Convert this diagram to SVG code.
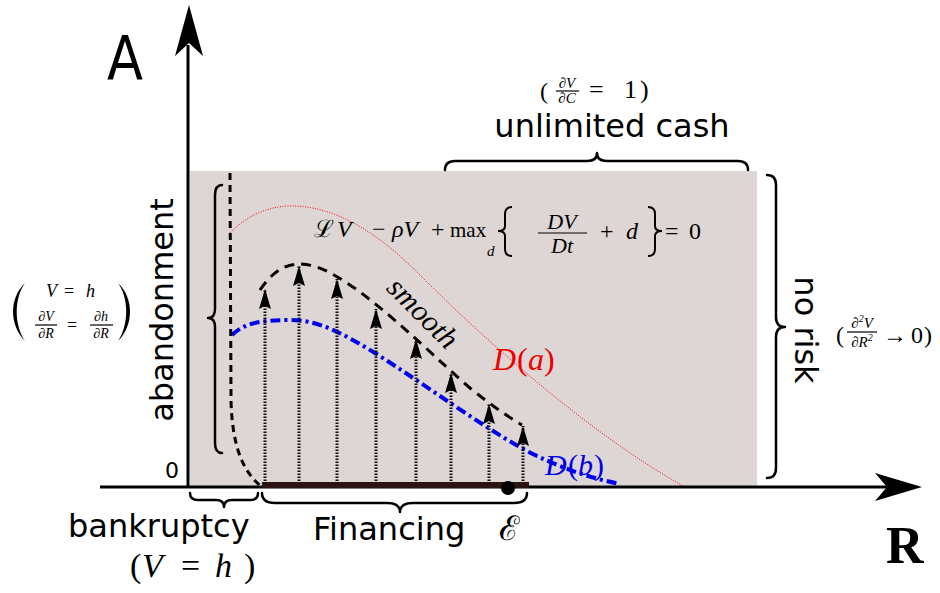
<svg xmlns="http://www.w3.org/2000/svg" width="940" height="593" viewBox="0 0 940 593">
<style>
.sans{font-family:"DejaVu Sans","Noto Sans",sans-serif;fill:#000}
.m{font-family:"Liberation Serif","DejaVu Serif",serif;fill:#000}
.i{font-style:italic}
.brace{fill:none;stroke:#000;stroke-width:2.5;stroke-linecap:round;stroke-linejoin:round}
.axis{stroke:#000;stroke-width:3;fill:none}
.shaft{stroke:#111;stroke-width:3;stroke-dasharray:1.5 1.5;fill:none}
.bar{stroke:#000;stroke-width:1.2}
</style>
<defs>
<marker id="ah" markerWidth="20" markerHeight="12" refX="20" refY="6" orient="auto" markerUnits="userSpaceOnUse">
<path d="M0,0 L20,6 L0,12 L3,6 Z" fill="#000"/>
</marker>
</defs>
<rect width="940" height="593" fill="#fff"/>
<g id="region">
<rect x="190" y="171" width="567" height="316" fill="#ddd6d4"/>
</g>
<g id="curves">
<path id="curve-a" d="M230,233 C250,212 275,205 295,206 C340,208 380,235 420,275 C500,355 600,440 685,487" fill="none" stroke="#ff0000" stroke-width="1" stroke-dasharray="1 1.5"/>
<path id="curve-b" d="M232,335 C245,322 265,320 290,320 C320,320 345,335 375,353 C430,388 480,425 525,450 C560,468 590,478 620,484" fill="none" stroke="#0000ee" stroke-width="4" stroke-dasharray="10 4 3 4"/>
<path id="curve-smooth" d="M260,290 C272,272 285,264 300,264 C320,264 340,278 360,292 C400,322 440,362 470,388 C490,404 505,415 522,425" fill="none" stroke="#000" stroke-width="3" stroke-dasharray="10 7"/>
<path id="boundary" d="M230,173 L231,400 C232,440 240,470 262,487" fill="none" stroke="#000" stroke-width="3" stroke-dasharray="7 5"/>
</g>
<g id="connectors">
<line class="shaft" x1="265" y1="484" x2="265" y2="289" marker-end="url(#ah)"/>
<line class="shaft" x1="299" y1="484" x2="299" y2="266" marker-end="url(#ah)"/>
<line class="shaft" x1="337" y1="484" x2="337" y2="279" marker-end="url(#ah)"/>
<line class="shaft" x1="376" y1="484" x2="376" y2="309" marker-end="url(#ah)"/>
<line class="shaft" x1="416" y1="484" x2="416" y2="339" marker-end="url(#ah)"/>
<line class="shaft" x1="451" y1="484" x2="451" y2="373" marker-end="url(#ah)"/>
<line class="shaft" x1="489" y1="484" x2="489" y2="404" marker-end="url(#ah)"/>
<line class="shaft" x1="523" y1="484" x2="523" y2="426" marker-end="url(#ah)"/>
</g>
<g id="axes">
<line class="axis" x1="188" y1="488" x2="188" y2="45"/>
<path d="M189,5 L203,56 L189,43 L175,56 Z" fill="#000"/>
<line class="axis" x1="100" y1="487" x2="890" y2="487"/>
<path d="M922,487 L875,501 L887,487 L875,473 Z" fill="#000"/>
<rect x="262" y="482" width="267" height="6" fill="#2b1414"/>
<circle cx="508" cy="488" r="7" fill="#000"/>
<text class="sans" x="107" y="79" font-size="60" textLength="36" lengthAdjust="spacingAndGlyphs">A</text>
<text class="sans" x="165" y="478" font-size="22">0</text>
<text class="m" x="886" y="563" font-size="52" font-weight="bold">R</text>
<text class="m" x="499" y="540" font-size="34" style="font-family:'DejaVu Serif',serif">ℰ</text>
</g>
<g id="braces">
<path class="brace" d="M222,185 Q215,185 215,195 L215,309 Q215,318 208,318 Q215,318 215,327 L215,443 Q215,453 222,453"/>
<path class="brace" d="M767,175 Q776,175 776,185 L776,317 Q776,327 785,327 Q776,327 776,337 L776,468 Q776,478 767,478"/>
<path class="brace" d="M445,170 Q445,161 455,161 L587,161 Q597,161 597,153 Q597,161 607,161 L738,161 Q748,161 748,170"/>
<path class="brace" d="M190,493 Q190,500 198,500 L216,500 Q224,500 224,507 Q224,500 232,500 L250,500 Q258,500 258,493"/>
<path class="brace" d="M262,493 Q262,503 275,503 L387,503 Q400,503 400,512 Q400,503 413,503 L514,503 Q527,503 527,493"/>
</g>
<g id="label-unlimited-cash">
<text class="m" x="540" y="99" font-size="24">(</text>
<text class="m i" x="567" y="88" font-size="15" text-anchor="middle">∂V</text>
<line class="bar" x1="556" y1="91" x2="579" y2="91"/>
<text class="m i" x="567" y="103" font-size="15" text-anchor="middle">∂C</text>
<text class="m" font-size="26" y="98"><tspan x="589">=</tspan><tspan x="624">1</tspan><tspan x="640">)</tspan></text>
<text class="sans" x="612" y="137" font-size="32" text-anchor="middle">unlimited cash</text>
</g>
<g id="label-no-risk">
<text class="sans" font-size="32" text-anchor="middle" transform="translate(795,330) rotate(90)">no risk</text>
<text class="m" x="836" y="343" font-size="24">(</text>
<text class="m i" x="862" y="328" font-size="15" text-anchor="middle">∂<tspan font-size="10" dy="-6">2</tspan><tspan dy="6">V</tspan></text>
<line class="bar" x1="847" y1="332" x2="877" y2="332"/>
<text class="m i" x="862" y="347" font-size="15" text-anchor="middle">∂R<tspan font-size="10" dy="-6">2</tspan></text>
<text class="m" font-size="24" y="343"><tspan x="883">→</tspan><tspan x="911">0</tspan><tspan x="924">)</tspan></text>
</g>
<g id="label-abandonment">
<text class="sans" font-size="32" text-anchor="middle" transform="translate(173,310) rotate(-90)">abandonment</text>
<path d="M25,283 C9,298 9,325 25,341 C14,325 14,298 25,283 Z" fill="#000"/>
<path d="M118,283 C134,298 134,325 118,341 C129,325 129,298 118,283 Z" fill="#000"/>
<text class="m" font-size="18" y="297"><tspan x="46" font-style="italic">V</tspan><tspan x="64">=</tspan><tspan x="86" font-style="italic">h</tspan></text>
<text class="m i" x="46" y="321" font-size="14" text-anchor="middle">∂V</text>
<line class="bar" x1="35" y1="325" x2="57" y2="325"/>
<text class="m i" x="46" y="338" font-size="14" text-anchor="middle">∂R</text>
<text class="m" x="67" y="331" font-size="18">=</text>
<text class="m i" x="101" y="321" font-size="14" text-anchor="middle">∂h</text>
<line class="bar" x1="90" y1="325" x2="113" y2="325"/>
<text class="m i" x="101" y="338" font-size="14" text-anchor="middle">∂R</text>
</g>
<g id="label-bankruptcy">
<text class="sans" x="68" y="537" font-size="32">bankruptcy</text>
<text class="m" font-size="34" y="577"><tspan x="130">(</tspan><tspan x="142" font-style="italic">V</tspan><tspan x="181">=</tspan><tspan x="215" font-style="italic">h</tspan><tspan x="244">)</tspan></text>
</g>
<g id="label-financing">
<text class="sans" x="313" y="540" font-size="32">Financing</text>
</g>
<g id="label-equation">
<text class="m" font-size="24" y="237"><tspan x="314" style="font-family:'DejaVu Serif',serif">ℒ</tspan><tspan x="337" font-style="italic">V</tspan><tspan x="372">−</tspan><tspan x="392" font-style="italic">ρV</tspan><tspan x="431">+</tspan></text>
<text class="m" x="450" y="237" font-size="21">max</text>
<text class="m i" x="487" y="256" font-size="15">d</text>
<path d="M512,207 Q505,207 505,214 L505,226 Q505,231 498,231 Q505,231 505,236 L505,249 Q505,256 512,256" fill="none" stroke="#000" stroke-width="2"/>
<text class="m i" x="562" y="229" font-size="22" text-anchor="middle">DV</text>
<line class="bar" x1="538" y1="233" x2="587" y2="233"/>
<text class="m i" x="562" y="253" font-size="22" text-anchor="middle">Dt</text>
<text class="m" font-size="24" y="239"><tspan x="600">+</tspan><tspan x="626" font-style="italic">d</tspan></text>
<path d="M648,207 Q655,207 655,214 L655,226 Q655,231 662,231 Q655,231 655,236 L655,249 Q655,256 648,256" fill="none" stroke="#000" stroke-width="2"/>
<text class="m" font-size="24" y="239"><tspan x="665">=</tspan><tspan x="689">0</tspan></text>
</g>
<g id="label-smooth">
<text class="m i" font-size="30" text-anchor="middle" transform="translate(416,320) rotate(45)">smooth</text>
</g>
<g id="label-Da">
<text class="m" font-size="32" y="370" style="fill:#ee0000"><tspan x="493" font-style="italic">D</tspan><tspan x="517">(</tspan><tspan x="528" font-style="italic">a</tspan><tspan x="544">)</tspan></text>
</g>
<g id="label-Db">
<text class="m" font-size="30" y="475" style="fill:#0000ee"><tspan x="545" font-style="italic">D</tspan><tspan x="568">(</tspan><tspan x="578" font-style="italic">b</tspan><tspan x="594">)</tspan></text>
</g>
</svg>
